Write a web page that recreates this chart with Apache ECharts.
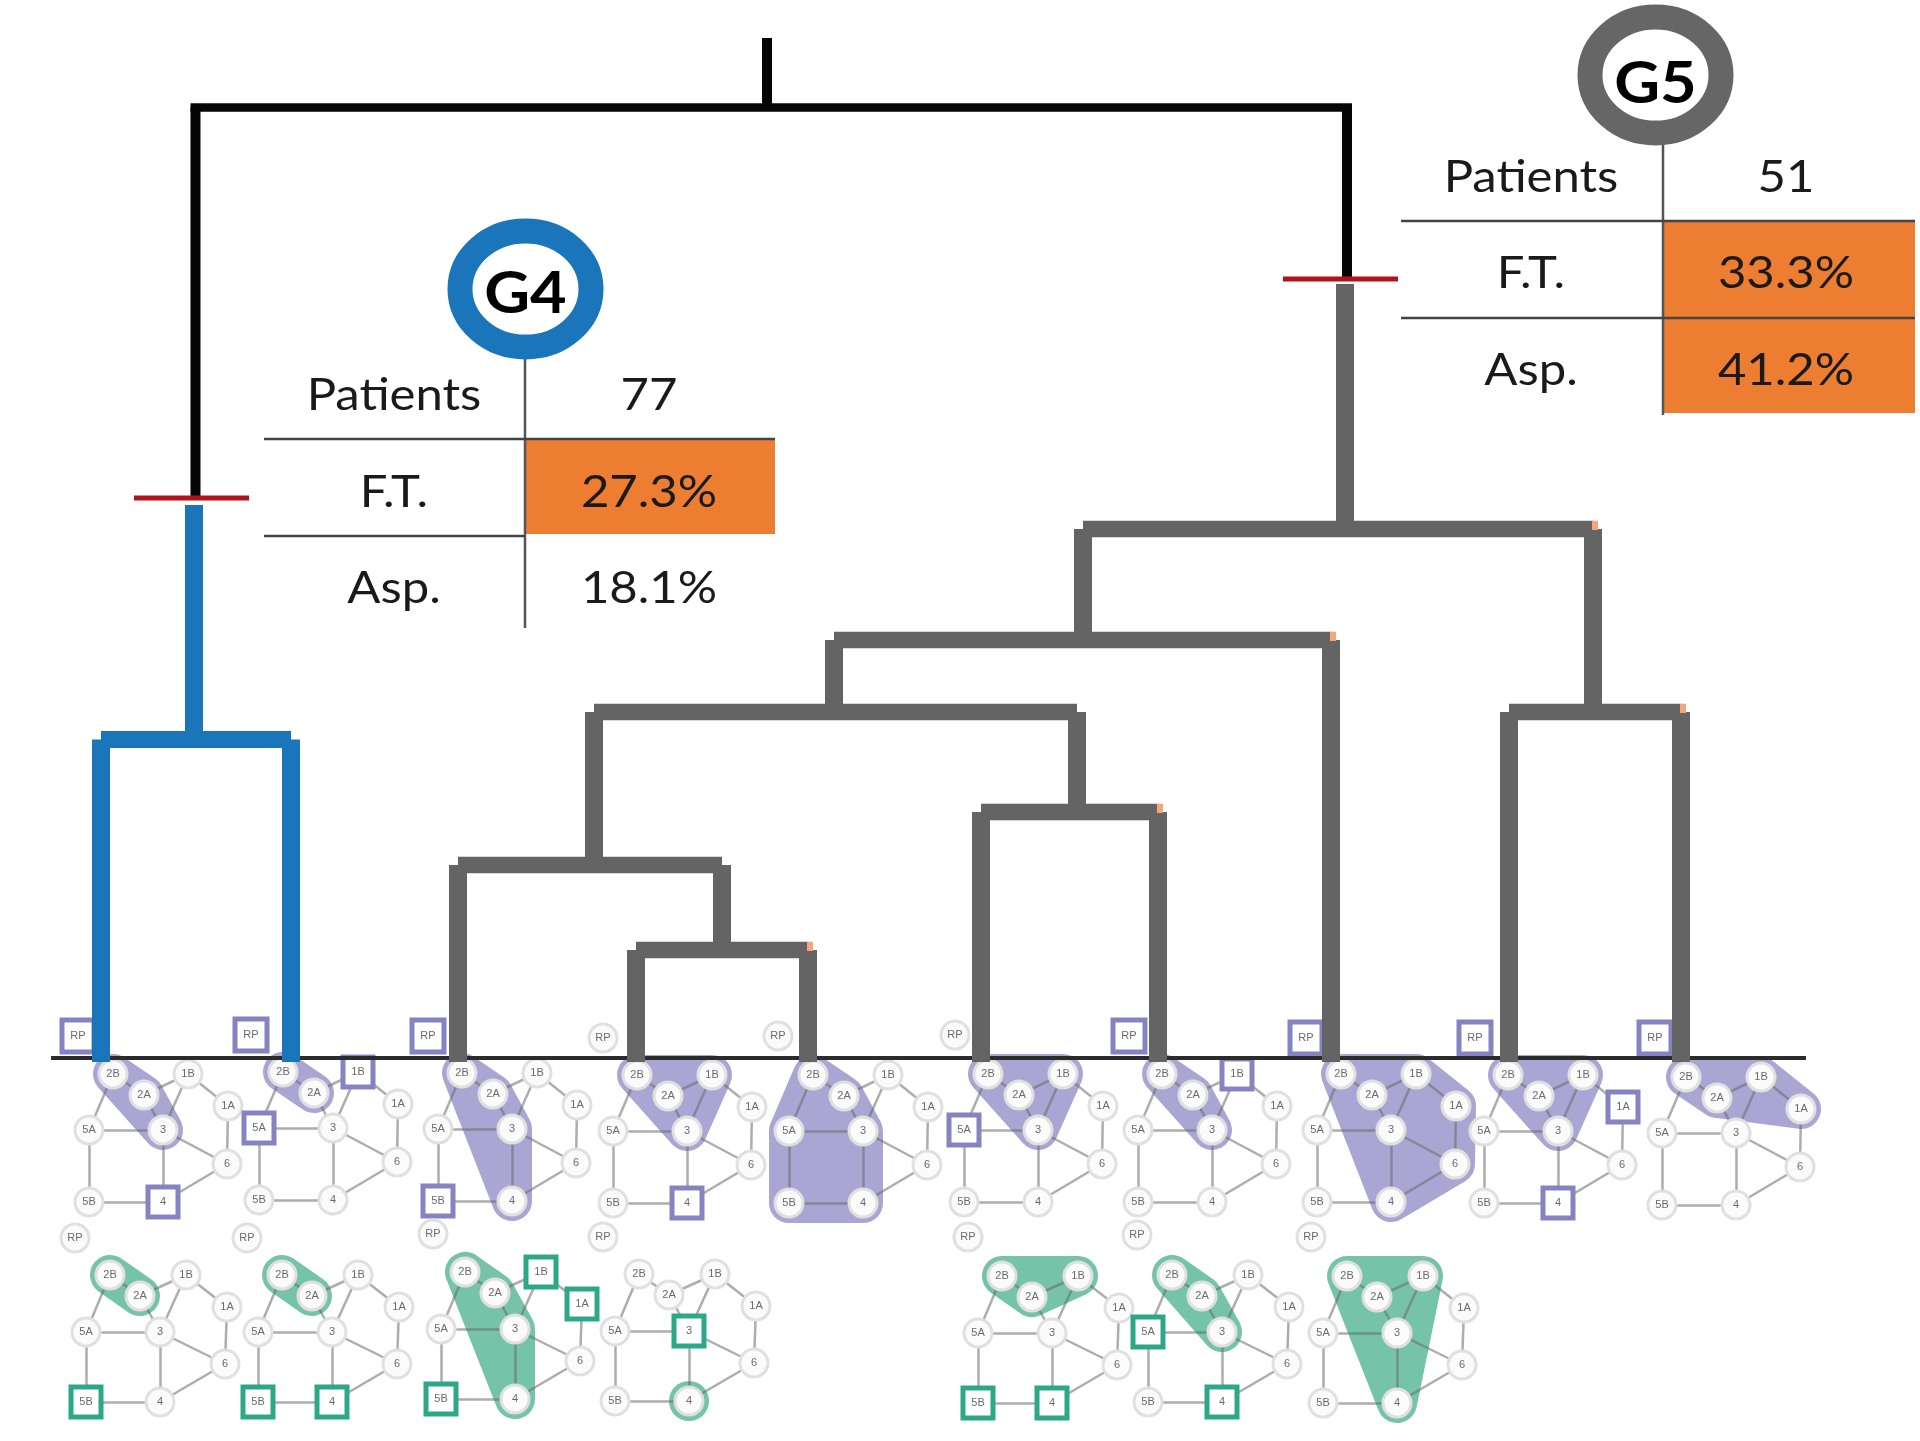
<!DOCTYPE html>
<html><head><meta charset="utf-8">
<style>html,body{margin:0;padding:0;background:#fff}#c{width:1920px;height:1441px}</style>
<script src="https://cdn.jsdelivr.net/npm/echarts@6/dist/echarts.min.js"></script>
</head><body><div id="c"></div>
<script>
// ---- dendrogram (axis units): [xLeft, xRight, yMerge, yLeftEnd, yRightEnd]
const rootBranches = [[195.5, 1347, 107.5, 497, 280]];
const rootStems = [[767, 38, 107]];
const g4Branches = [[101, 291, 739.5, 1062, 1062]];
const g4Stems = [[194, 505, 739]];
const g5Branches = [
  [1083, 1593, 529, 640, 712],
  [834, 1331, 640, 712, 1062],
  [594, 1077, 712, 865, 812],
  [458, 722, 865, 1062, 950],
  [636, 808, 950, 1062, 1062],
  [981, 1158, 812, 1062, 1062],
  [1509, 1681, 712, 1062, 1062]
];
const g5Stems = [[1345, 284, 529]];
const g5FleckedBranches = [0, 1, 4, 5, 6];
const cutMarks = [[134, 249, 498], [1283, 1398, 279]];
const baseline = [51, 1806, 1058];

// ---- network motif
const nodeNames = ['2B', '2A', '1B', '1A', '5A', '3', '6', '5B', '4'];
const upperDx = [0, 31, 75, 115, -24, 50, 114, -24, 50];
const upperDy = [0, 21, 0, 32, 56, 56, 90, 128, 128];
const lowerDx = [0, 30, 76, 117, -24, 50, 115, -24, 50];
const lowerDy = [0, 21, 0, 32, 57, 57, 89, 127, 127];
const edgeList = [['2B','5A'],['2B','2A'],['2A','3'],['2A','1B'],['1B','3'],['1B','1A'],['1A','6'],['5A','3'],['5A','5B'],['3','4'],['3','6'],['4','6'],['5B','4']];

const upperAnchorX = [113, 283, 462, 637, 813, 988, 1162, 1341, 1508, 1686];
const upperAnchorY = [1074, 1072, 1073, 1075, 1075, 1074, 1074, 1074, 1075, 1077];
const upperRpX = [78, 251, 428, 603, 778, 955, 1129, 1306, 1475, 1655];
const upperRpY = [1036, 1035, 1036, 1038, 1036, 1035, 1036, 1038, 1038, 1038];
const upperMarked = [['RP','4'],['RP','1B','5A'],['RP','5B'],['4'],[],['5A'],['RP','1B'],['RP'],['RP','1A','4'],['RP']];
const upperRegions = [['2B','2A','3'],['2B','2A'],['2B','2A','3','4'],['2B','1B','3'],['2B','2A','3','4','5B','5A'],['2B','1B','3'],['2B','2A','3'],['2B','1B','1A','6','4'],['2B','1B','3'],['2B','1B','1A','2A']];

const lowerAnchorX = [110, 282, 465, 639, 1002, 1172, 1347];
const lowerAnchorY = [1275, 1275, 1272, 1274, 1276, 1275, 1276];
const lowerRpX = [75, 247, 433, 603, 968, 1137, 1311];
const lowerRpY = [1238, 1238, 1234, 1237, 1237, 1235, 1237];
const lowerMarked = [['5B'],['5B','4'],['5B','1B','1A'],['3'],['5B','4'],['5A','4'],[]];
const lowerRegions = [['2B','2A'],['2B','2A'],['2B','2A','3','4'],['4'],['2B','1B','2A'],['2B','2A','3'],['2B','1B','4']];

// ---- group tables
const rowLabels = ['Patients', 'F.T.', 'Asp.'];
const g4Values = ['77', '27.3%', '18.1%'];
const g5Values = ['51', '33.3%', '41.2%'];
const g4Highlighted = [false, true, false];
const g5Highlighted = [false, true, true];
const g4RowY = [395, 492, 588];
const g5RowY = [177, 273, 370];

const BLACK = '#050505', BLUE = '#1b75bb', GREY = '#646464', RED = '#b3121d', ORANGE = '#ed7d31', FLECK = '#f4a57a';
const PURPLE = '#a9a6d3', PURPLE_D = '#8683c2', TEAL = '#75c3a8', TEAL_D = '#2ca886';
const TEXT_FONT = 'Lato';

function custom(items, z, draw) {
  return {
    type: 'custom', coordinateSystem: 'cartesian2d', z, silent: true, clip: false, animation: false,
    data: items.map((_, i) => [i, i]),
    renderItem: (p, api) => draw(items[p.dataIndex], c => api.coord(c), p.dataIndex)
  };
}
const line = (a, b, lw, col) => ({type: 'line', shape: {x1: a[0], y1: a[1], x2: b[0], y2: b[1]}, style: {stroke: col, lineWidth: lw, fill: null}});
const rect = (a, b, col) => ({type: 'rect', shape: {x: a[0], y: a[1], width: b[0] - a[0], height: b[1] - a[1]}, style: {fill: col}});
const text = (p, s, size, col, weight) => ({type: 'text', x: p[0], y: p[1], scaleX: 1.09,
  style: {text: s, x: 0, y: 0, fontSize: size, fontFamily: TEXT_FONT, fontWeight: weight || 'normal', fill: col, align: 'center', verticalAlign: 'middle'}});

function branchSeries(branches, stems, col, vw, hw, overhang, z, flecked) {
  return [
    custom(branches, z, (b, xy, i) => {
      const [xl, xr, ym, yl, yr] = b;
      const children = [
        line(xy([xl, ym]), xy([xl, yl]), vw, col),
        line(xy([xr, ym]), xy([xr, yr]), vw, col),
        line(xy([xl - overhang, ym]), xy([xr + overhang, ym]), hw, col)
      ];
      if (flecked && flecked.includes(i)) {
        const c = xy([xr, ym]);
        children.push(rect([c[0] - 1, c[1] - hw / 2], [c[0] + 5, c[1] + 1], FLECK));
      }
      return {type: 'group', children};
    }),
    custom(stems, z, (s, xy) => line(xy([s[0], s[1]]), xy([s[0], s[2]]), vw, col))
  ];
}

function nodePos(ax, ay, dx, dy, name) {
  const i = nodeNames.indexOf(name);
  return [ax + dx[i], ay + dy[i]];
}

function regionSeries(ax, ay, dx, dy, regions, col) {
  return custom(regions, 1, (r, xy, i) => {
    const pts = r.map(n => xy(nodePos(ax[i], ay[i], dx, dy, n)));
    if (pts.length === 1) return {type: 'circle', shape: {cx: pts[0][0], cy: pts[0][1], r: 20}, style: {fill: col}};
    return {type: 'polygon', shape: {points: pts}, style: {fill: col, stroke: col, lineWidth: 40, lineJoin: 'round'}};
  });
}

function networkSeries(ax, ay, dx, dy, rx, ry, marked, markCol) {
  return ax.map((x, i) => {
    const mk = n => marked[i].includes(n);
    const style = n => mk(n)
      ? {symbol: 'rect', symbolSize: n === 'RP' ? 32 : 30, itemStyle: {color: '#fff', borderColor: markCol, borderWidth: 5}}
      : {symbol: 'circle', symbolSize: 28, itemStyle: {color: '#fbfbfb', borderColor: '#e0e0e0', borderWidth: 3}};
    const nodes = nodeNames.map(n => ({name: n, value: nodePos(x, ay[i], dx, dy, n), ...style(n)}));
    nodes.push({name: 'RP', value: [rx[i], ry[i]], ...style('RP')});
    return {
      type: 'graph', coordinateSystem: 'cartesian2d', layout: 'none', z: 2, silent: true, animation: false,
      label: {show: true, position: 'inside', color: '#6a6a6a', fontSize: 11, fontFamily: 'Liberation Sans', formatter: '{b}'},
      lineStyle: {color: 'rgba(105,105,105,0.55)', width: 2.5, opacity: 1, curveness: 0},
      data: nodes,
      links: edgeList.map(e => ({source: e[0], target: e[1]}))
    };
  });
}

function tableSeries(cfg) {
  return [
    custom(cfg.values, 4, (v, xy, i) => {
      const cells = [];
      if (cfg.highlighted[i]) cells.push(rect(xy([cfg.xSplit, cfg.rules[i - 1]]), xy([cfg.xEnd, cfg.rowEnds[i]]), ORANGE));
      return {type: 'group', children: cells};
    }),
    custom(cfg.values, 5, (v, xy, i) => ({type: 'group', children: [
      text(xy([cfg.xLabel, cfg.rowY[i]]), rowLabels[i], 45, '#1a1a1a'),
      text(xy([cfg.xValue, cfg.rowY[i]]), v, 45, '#1a1a1a')
    ]})),
    custom([cfg], 5, (c, xy) => ({type: 'group', children: [
      line(xy([c.xSplit, c.circle[1] + 69]), xy([c.xSplit, c.rowEnds[2] + 2]), 2.5, '#555'),
      line(xy([c.xStart, c.rules[0]]), xy([c.xEnd, c.rules[0]]), 2.5, '#444'),
      line(xy([c.xStart, c.rules[1]]), xy([c.rule2End, c.rules[1]]), 2.5, '#444'),
      {type: 'ellipse', shape: {cx: xy(c.circle)[0], cy: xy(c.circle)[1], rx: 65.5, ry: 58}, style: {fill: '#fff', stroke: c.col, lineWidth: 25}},
      text(xy([c.circle[0], c.circle[1] + c.nameDy]), c.name, 58, '#000', 'bold')
    ]}))
  ];
}

const series = [
  regionSeries(upperAnchorX, upperAnchorY, upperDx, upperDy, upperRegions, PURPLE),
  regionSeries(lowerAnchorX, lowerAnchorY, lowerDx, lowerDy, lowerRegions, TEAL),
  networkSeries(upperAnchorX, upperAnchorY, upperDx, upperDy, upperRpX, upperRpY, upperMarked, PURPLE_D),
  networkSeries(lowerAnchorX, lowerAnchorY, lowerDx, lowerDy, lowerRpX, lowerRpY, lowerMarked, TEAL_D),
  custom([baseline], 3, (b, xy) => line(xy([b[0], b[2]]), xy([b[1], b[2]]), 4, '#2b2b2b')),
  branchSeries(g5Branches, g5Stems, GREY, 18, 16.5, 0, 3, g5FleckedBranches),
  branchSeries(g4Branches, g4Stems, BLUE, 18, 17, 0, 3),
  branchSeries(rootBranches, rootStems, BLACK, 10, 8.5, 5, 3),
  custom(cutMarks, 4, (m, xy) => line(xy([m[0], m[2]]), xy([m[1], m[2]]), 5, RED)),
  tableSeries({name: 'G4', nameDy: 5, col: BLUE, circle: [525.5, 289], values: g4Values, highlighted: g4Highlighted, rowY: g4RowY,
    xSplit: 525, xStart: 264, xEnd: 775, rule2End: 525, xLabel: 394, xValue: 649, rules: [439, 536], rowEnds: [439, 534, 626]}),
  tableSeries({name: 'G5', nameDy: 9, col: '#666666', circle: [1655.5, 75], values: g5Values, highlighted: g5Highlighted, rowY: g5RowY,
    xSplit: 1663, xStart: 1401, xEnd: 1915, rule2End: 1915, xLabel: 1531, xValue: 1786, rules: [221, 318], rowEnds: [221, 318, 413]})
].flat();

const chart = echarts.init(document.getElementById('c'), null, {renderer: 'canvas'});
chart.setOption({
  animation: false,
  backgroundColor: '#fff',
  grid: {left: 0, right: 0, top: 0, bottom: 0},
  xAxis: {type: 'value', min: 0, max: 1920, show: false},
  yAxis: {type: 'value', min: 0, max: 1441, inverse: true, show: false},
  series
});
</script></body></html>
